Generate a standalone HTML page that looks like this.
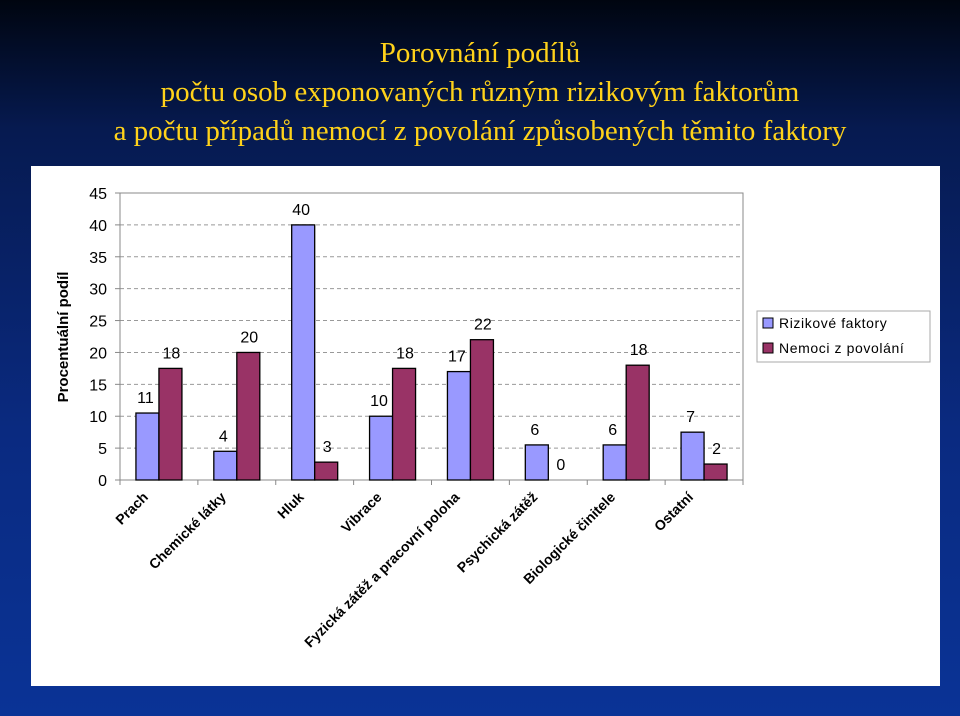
<!DOCTYPE html>
<html><head><meta charset="utf-8"><style>
body{margin:0;width:960px;height:716px;overflow:hidden;background:linear-gradient(#000510 0%,#061a50 18%,#0a2a80 60%,#0a3396 100%);font-family:"Liberation Sans",sans-serif}
#title{position:absolute;top:34px;left:0;width:960px;text-align:center;color:#ffd21a;font-family:"Liberation Serif",serif;font-size:29px;line-height:39px}
#panel{position:absolute;left:31px;top:166px;width:909px;height:520px;background:#fff}
</style></head><body>
<div id="title">Porovnání podílů<br>počtu osob exponovaných různým rizikovým faktorům<br>a počtu případů nemocí z povolání způsobených těmito faktory</div>
<div id="panel"></div>
<svg id="chart" width="960" height="716" style="position:absolute;left:0;top:0"></svg>
<script>
const categories=["Prach","Chemické látky","Hluk","Vibrace","Fyzická zátěž a pracovní poloha","Psychická zátěž","Biologické činitele","Ostatní"];
const riskValues=[10.5,4.5,40,10,17,5.5,5.5,7.5];
const diseaseValues=[17.5,20,2.8,17.5,22,0,18,2.5];
const riskLabels=["11","4","40","10","17","6","6","7"];
const diseaseLabels=["18","20","3","18","22","0","18","2"];
const yTicks=[0,5,10,15,20,25,30,35,40,45];
const seriesNames=["Rizikové faktory","Nemoci z povolání"];

const svg=document.getElementById('chart');
const NS="http://www.w3.org/2000/svg";
const L=120,R=743,T=193,B=480,yMax=45;
const y=v=>B-(B-T)*v/yMax;
const cw=(R-L)/categories.length;
const cx=i=>L+cw*(i+0.5);
const bw=23;
function mk(tag,attrs,text){const e=document.createElementNS(NS,tag);for(const k in attrs)e.setAttribute(k,attrs[k]);if(text!==undefined)e.textContent=text;svg.appendChild(e);return e;}

yTicks.forEach(t=>{
  if(t>0&&t<45){const g=mk('line',{x1:L,x2:R,y1:y(t),y2:y(t),stroke:'#999','stroke-dasharray':'4,3','stroke-width':1});
  
  }
  const tk=mk('line',{x1:L-5,x2:L,y1:y(t),y2:y(t),stroke:'#888'});
  
  
  const lb=mk('text',{x:L-13,y:y(t)+6,'text-anchor':'end','font-size':16,fill:'#000'},t);
  
  
});
const frame=mk('rect',{x:L,y:T,width:R-L,height:B-T,fill:'none',stroke:'#888'});


for(let i=0;i<=categories.length;i++){
  const t=mk('line',{x1:L+cw*i,x2:L+cw*i,y1:B,y2:B+5,stroke:'#888'});
  
  
}
const yt=mk('text',{x:0,y:0,transform:'translate(68,337) rotate(-90)','text-anchor':'middle','font-size':15,'font-weight':'bold',fill:'#000'},'Procentuální podíl');



categories.forEach((c,i)=>{
  const x=cx(i);
  const b1=mk('rect',{x:x-bw,y:y(riskValues[i]),width:bw,height:B-y(riskValues[i]),fill:'#9999ff',stroke:'#000','stroke-width':1.3});
  
  
  const b2=mk('rect',{x:x,y:y(diseaseValues[i]),width:bw,height:B-y(diseaseValues[i]),fill:'#993366',stroke:'#000','stroke-width':1.3});
  
  
  const l1=mk('text',{x:x-bw/2-2,y:y(riskValues[i])-10,'text-anchor':'middle','font-size':16},riskLabels[i]);
  
  
  const l2=mk('text',{x:x+bw/2+1,y:y(diseaseValues[i])-10,'text-anchor':'middle','font-size':16},diseaseLabels[i]);
  
  
  const cl=mk('text',{x:0,y:0,transform:`translate(${x-10},${B+18}) rotate(-45)`,'text-anchor':'end','font-size':14,'font-weight':'bold'},c);
  
  
});

const lg=mk('rect',{x:757,y:311,width:173,height:51,fill:'#fff',stroke:'#aaa'});


['#9999ff','#993366'].forEach((col,j)=>{
  const s=mk('rect',{x:763,y:318+j*25,width:10,height:10,fill:col,stroke:'#000'});
  
  
  const t=mk('text',{x:779,y:328+j*25,'font-size':14,'letter-spacing':'0.6'},seriesNames[j]);
  
  
});
</script>
</body></html>
